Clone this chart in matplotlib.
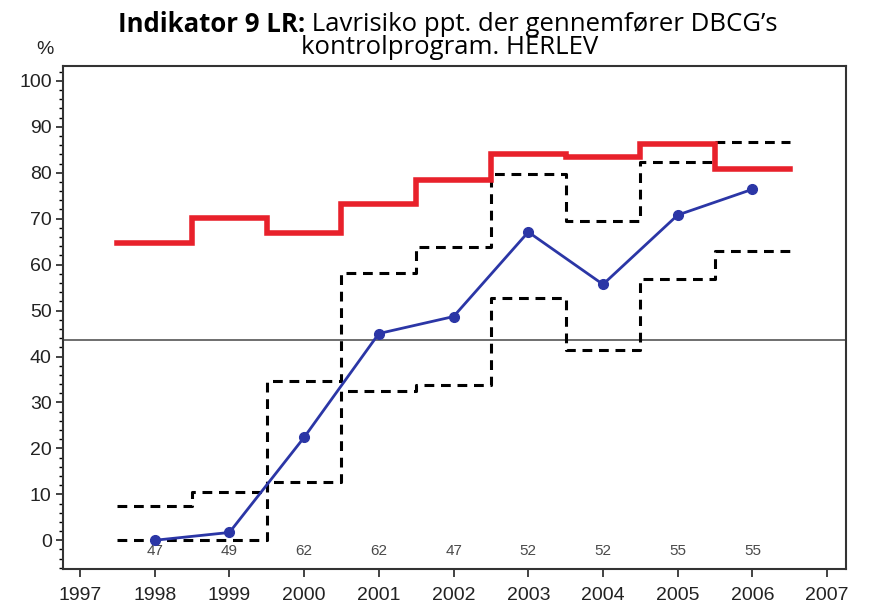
#!/usr/bin/env python3

import numpy as np
import matplotlib
matplotlib.use("Agg")
import matplotlib.pyplot as plt
from matplotlib.ticker import MultipleLocator

# values
years = [1998, 1999, 2000, 2001, 2002, 2003, 2004, 2005, 2006]
pct = [0.0, 1.7, 22.4, 45.0, 48.7, 67.1, 55.7, 70.8, 76.4]
upper_ci = [7.4, 10.6, 34.7, 58.2, 63.9, 79.7, 69.6, 82.3, 86.8]
lower_ci = [0.0, 0.0, 12.6, 32.4, 33.9, 52.8, 41.4, 56.8, 62.9]
reference = [64.7, 70.1, 66.8, 73.1, 78.5, 84.1, 83.4, 86.3, 80.9]
counts = [47, 49, 62, 62, 47, 52, 52, 55, 55]
standard = 43.6

plt.rcParams['font.family'] = ['Liberation Sans', 'DejaVu Sans']

fig = plt.figure(figsize=(8.72, 6.07), dpi=100)
ax = fig.add_axes([0.072, 0.063, 0.898, 0.828])


def step_xy(xs, ys):
    # horizontal segments from x-0.5 to x+0.5 joined by vertical jumps
    sx, sy = [], []
    for x, y in zip(xs, ys):
        sx += [x - 0.5, x + 0.5]
        sy += [y, y]
    return sx, sy


rx, ry = step_xy(years, reference)
ax.plot(rx, ry, color='#e8212b', lw=4, solid_joinstyle='miter', zorder=3)

ux, uy = step_xy(years, upper_ci)
ax.plot(ux, uy, color='black', lw=2.2, ls=(0, (3.2, 2.2)), zorder=2)
lx, ly = step_xy(years, lower_ci)
ax.plot(lx, ly, color='black', lw=2.2, ls=(0, (3.2, 2.2)), zorder=2)

ax.axhline(standard, color='#555555', lw=1.2, zorder=1)

ax.plot(years, pct, color='#2b36a6', lw=2, marker='o', ms=7, zorder=4)

for x, n in zip(years, counts):
    ax.text(x, -2.4, str(n), ha='center', va='center', fontsize=11, color='#4a4a4a')

ax.set_xlim(1996.77, 2007.25)
ax.set_ylim(-6.2, 103.2)
ax.set_xticks(range(1997, 2008))
ax.set_yticks(range(0, 101, 10))
ax.yaxis.set_minor_locator(MultipleLocator(2))
ax.tick_params(axis='both', labelsize=14, direction='out', width=1.2, colors='#222222')
ax.tick_params(axis='x', length=6, pad=7)
ax.tick_params(axis='y', which='major', length=5, pad=3)
ax.tick_params(axis='y', which='minor', length=3, width=1)
for s in ax.spines.values():
    s.set_linewidth(1.5)
    s.set_color('#333333')

fig.text(0.052, 0.918, '%', ha='center', va='center', fontsize=14, color='#222222')

# title: bold prefix + regular text on first line
tfont = ['Open Sans', 'DejaVu Sans']
fig.canvas.draw()
r = fig.canvas.get_renderer()
t1 = fig.text(0, 0.959, 'Indikator 9 LR:', fontsize=18.5, fontweight='bold', family=tfont,
              va='center', ha='left')
t2 = fig.text(0, 0.959, ' Lavrisiko ppt. der gennemfører DBCG’s', fontsize=18.5, family=tfont,
              va='center', ha='left')
w1 = t1.get_window_extent(r).width
w2 = t2.get_window_extent(r).width
start = 448 - (w1 + w2) / 2
t1.set_x(start / 872)
t2.set_x((start + w1) / 872)
fig.text(450 / 872, 0.921, 'kontrolprogram. HERLEV', fontsize=18.5, family=tfont,
         ha='center', va='center')

fig.savefig('out.png', dpi=100)
